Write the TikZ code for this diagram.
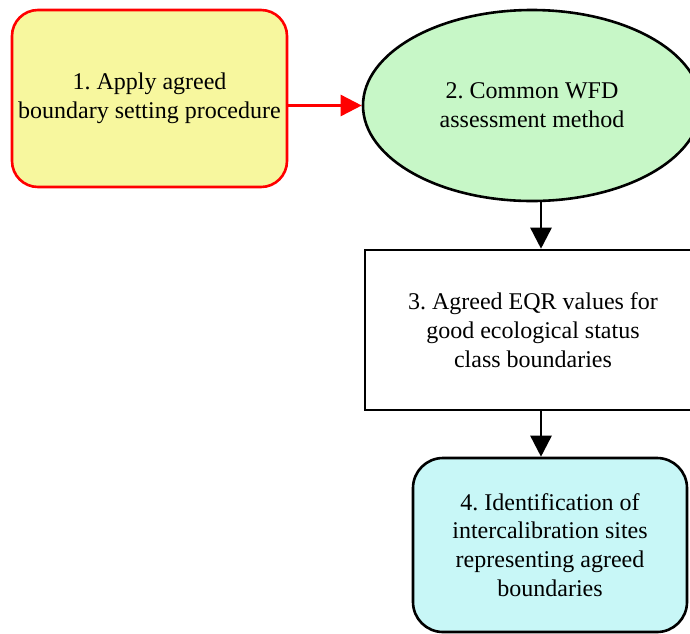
\documentclass[tikz,border=0pt]{standalone}
\usepackage{fontspec}
\setmainfont{Liberation Serif}
\usepackage{tikz}
\usetikzlibrary{shapes.geometric,arrows.meta,positioning}
\frenchspacing

\definecolor{stepyellow}{RGB}{247,247,158}
\definecolor{stepgreen}{RGB}{199,247,199}
\definecolor{stepcyan}{RGB}{200,247,247}
\definecolor{stepred}{RGB}{255,0,0}

\tikzset{
  steptext/.style={align=center, font=\fontsize{24}{28.7}\selectfont, inner sep=0pt},
  roundbox/.style={steptext, draw, line width=2.6pt, rectangle, rounded corners=26pt},
  flowarrow/.style={line width=2.6pt, -{Triangle[length=21pt,width=21pt]}}
}

\begin{document}
\begin{tikzpicture}[x=1pt, y=-1pt]
  \useasboundingbox (0,0) rectangle (690,633);
  % the four steps
  \node[roundbox, draw=stepred, fill=stepyellow, minimum width=275pt, minimum height=177pt]
    (apply) at (149.5,98.5) {1. Apply agreed\\boundary setting procedure};
  \node[steptext, ellipse, draw, line width=2.6pt, fill=stepgreen, minimum width=338pt, minimum height=191pt]
    (method) at (532,105.5) {2. Common WFD\\assessment method};
  \node[steptext, rectangle, draw, line width=2.6pt, fill=white, minimum width=336pt, minimum height=160pt]
    (eqr) at (533,330) {3. Agreed EQR values for\\good ecological status\\class boundaries};
  \node[roundbox, rounded corners=30pt, fill=stepcyan, minimum width=274pt, minimum height=174pt]
    (sites) at (550,545) {4. Identification of\\intercalibration sites\\representing agreed\\boundaries};
  % connectors
  \coordinate (axis) at (541,0);
  \draw[flowarrow, draw=stepred, fill=stepred] (apply.east |- method.west) -- (method.west);
  \draw[flowarrow] (method.south -| axis) -- (eqr.north -| axis);
  \draw[flowarrow] (eqr.south -| axis) -- (sites.north -| axis);
\end{tikzpicture}
\end{document}
